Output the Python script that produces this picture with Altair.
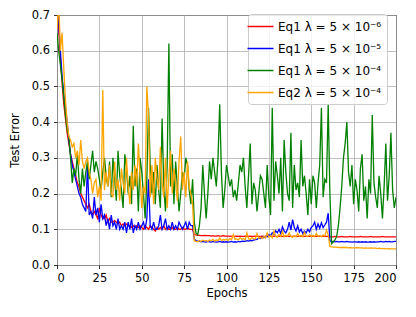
import altair as alt
import pandas as pd

epochs = list(range(201))

red_vals = [
    0.74, 0.66, 0.58, 0.51, 0.45, 0.41, 0.37, 0.34, 0.31, 0.29,
    0.27, 0.25, 0.23, 0.22, 0.20, 0.19, 0.18, 0.17, 0.16, 0.17,
    0.15, 0.14, 0.15, 0.14, 0.13, 0.16, 0.14, 0.13, 0.13, 0.14,
    0.12, 0.13, 0.12, 0.12, 0.125, 0.12, 0.115, 0.12, 0.11, 0.115,
    0.11, 0.115, 0.11, 0.11, 0.105, 0.11, 0.105, 0.11, 0.105, 0.11,
    0.105, 0.10, 0.11, 0.105, 0.10, 0.11, 0.105, 0.10, 0.095, 0.105,
    0.10, 0.105, 0.10, 0.11, 0.10, 0.105, 0.10, 0.10, 0.105, 0.10,
    0.10, 0.105, 0.10, 0.10, 0.105, 0.10, 0.10, 0.105, 0.10, 0.10,
    0.100, 0.086, 0.084, 0.083, 0.083, 0.082, 0.082, 0.083, 0.082, 0.082,
    0.082, 0.081, 0.082, 0.081, 0.081, 0.082, 0.081, 0.081, 0.082, 0.081,
    0.081, 0.081, 0.080, 0.081, 0.081, 0.080, 0.081, 0.080, 0.081, 0.080,
    0.080, 0.081, 0.080, 0.080, 0.081, 0.080, 0.080, 0.081, 0.080, 0.080,
    0.080, 0.081, 0.080, 0.080, 0.080, 0.081, 0.080, 0.080, 0.081, 0.080,
    0.080, 0.080, 0.081, 0.080, 0.080, 0.080, 0.081, 0.080, 0.080, 0.080,
    0.081, 0.080, 0.080, 0.080, 0.080, 0.081, 0.080, 0.080, 0.080, 0.081,
    0.080, 0.080, 0.080, 0.081, 0.080, 0.080, 0.080, 0.080, 0.081, 0.080,
    0.080, 0.079, 0.079, 0.079, 0.080, 0.079, 0.079, 0.079, 0.080, 0.079,
    0.079, 0.079, 0.079, 0.080, 0.079, 0.079, 0.079, 0.079, 0.079, 0.080,
    0.079, 0.079, 0.079, 0.079, 0.079, 0.080, 0.079, 0.079, 0.079, 0.079,
    0.079, 0.079, 0.080, 0.079, 0.079, 0.079, 0.079, 0.079, 0.079, 0.079,
    0.079,
]

blue_vals = [
    0.76, 0.68, 0.60, 0.53, 0.48, 0.44, 0.40, 0.35, 0.31, 0.28,
    0.26, 0.24, 0.22, 0.20, 0.19, 0.17, 0.16, 0.15, 0.28, 0.14,
    0.15, 0.13, 0.19, 0.14, 0.16, 0.12, 0.17, 0.13, 0.14, 0.11,
    0.13, 0.10, 0.14, 0.11, 0.12, 0.10, 0.13, 0.10, 0.11, 0.10,
    0.12, 0.09, 0.12, 0.10, 0.13, 0.09, 0.11, 0.10, 0.12, 0.10,
    0.11, 0.12, 0.10, 0.13, 0.24, 0.11, 0.10, 0.12, 0.10, 0.10,
    0.11, 0.14, 0.10, 0.11, 0.13, 0.10, 0.11, 0.10, 0.12, 0.10,
    0.11, 0.10, 0.12, 0.11, 0.10, 0.11, 0.12, 0.10, 0.12, 0.11,
    0.11, 0.072, 0.068, 0.066, 0.067, 0.065, 0.066, 0.065, 0.064, 0.066,
    0.065, 0.064, 0.066, 0.065, 0.064, 0.065, 0.066, 0.064, 0.065, 0.064,
    0.065, 0.064, 0.065, 0.066, 0.064, 0.065, 0.064, 0.066, 0.065, 0.066,
    0.067, 0.066, 0.068, 0.067, 0.069, 0.068, 0.070, 0.071, 0.072, 0.075,
    0.074, 0.078, 0.076, 0.080, 0.079, 0.085, 0.082, 0.090, 0.085, 0.096,
    0.090, 0.100, 0.088, 0.107, 0.095, 0.090, 0.100, 0.120, 0.098, 0.127,
    0.105, 0.095, 0.110, 0.092, 0.100, 0.088, 0.095, 0.090, 0.100, 0.093,
    0.105, 0.110, 0.120, 0.100, 0.115, 0.103, 0.118, 0.105, 0.112, 0.120,
    0.145, 0.068, 0.065, 0.066, 0.065, 0.066, 0.065, 0.065, 0.066, 0.065,
    0.065, 0.066, 0.065, 0.065, 0.064, 0.065, 0.065, 0.064, 0.065, 0.064,
    0.065, 0.064, 0.065, 0.064, 0.064, 0.065, 0.064, 0.065, 0.064, 0.065,
    0.065, 0.066, 0.065, 0.065, 0.066, 0.065, 0.066, 0.065, 0.065, 0.066,
    0.066,
]

green_vals = [
    0.65, 0.60, 0.56, 0.52, 0.47, 0.42, 0.38, 0.36, 0.30, 0.23,
    0.27, 0.25, 0.31, 0.24, 0.20, 0.27, 0.22, 0.26, 0.29, 0.24,
    0.28, 0.32, 0.26, 0.29, 0.27, 0.24, 0.21, 0.26, 0.30, 0.25,
    0.22, 0.29, 0.19, 0.30, 0.24, 0.18, 0.32, 0.25, 0.21, 0.16,
    0.31, 0.27, 0.20, 0.25, 0.17, 0.39, 0.22, 0.27, 0.15, 0.30,
    0.26, 0.20, 0.13, 0.24, 0.44, 0.28, 0.20, 0.26, 0.17, 0.28,
    0.21, 0.16, 0.41, 0.22, 0.15, 0.28, 0.62, 0.22, 0.31, 0.17,
    0.29, 0.22, 0.15, 0.20, 0.26, 0.24, 0.30, 0.28, 0.21, 0.17,
    0.24, 0.12, 0.09, 0.085, 0.11, 0.16, 0.28, 0.20, 0.13, 0.20,
    0.29, 0.24, 0.30, 0.26, 0.22, 0.30, 0.45, 0.26, 0.16, 0.21,
    0.28, 0.25, 0.22, 0.24, 0.19, 0.21, 0.18, 0.23, 0.28, 0.26,
    0.30, 0.22, 0.16, 0.25, 0.34, 0.17, 0.23, 0.21, 0.15, 0.20,
    0.25, 0.24, 0.20, 0.16, 0.28, 0.19, 0.14, 0.44, 0.18, 0.29,
    0.25, 0.20, 0.30, 0.15, 0.35, 0.26, 0.20, 0.18, 0.37, 0.16,
    0.28, 0.21, 0.23, 0.19, 0.35, 0.22, 0.25, 0.20, 0.14, 0.24,
    0.17, 0.25, 0.23, 0.16, 0.23, 0.28, 0.44, 0.19, 0.24, 0.23,
    0.45, 0.20, 0.06, 0.065, 0.07, 0.08, 0.11, 0.16, 0.22, 0.30,
    0.34, 0.40, 0.26, 0.22, 0.28, 0.17, 0.24, 0.21, 0.15, 0.27,
    0.31, 0.18, 0.22, 0.13, 0.24, 0.20, 0.42, 0.23, 0.19, 0.16,
    0.25, 0.20, 0.13, 0.22, 0.34, 0.18, 0.25, 0.37, 0.21, 0.16,
    0.19,
]

orange_vals = [
    0.66, 0.74, 0.60, 0.65, 0.55, 0.46, 0.40, 0.36, 0.35, 0.33,
    0.34, 0.30, 0.32, 0.28, 0.35, 0.29, 0.27, 0.29, 0.30, 0.26,
    0.24, 0.20, 0.23, 0.24, 0.19, 0.22, 0.18, 0.49, 0.21, 0.26,
    0.22, 0.28, 0.20, 0.19, 0.29, 0.21, 0.24, 0.18, 0.27, 0.23,
    0.20, 0.30, 0.22, 0.17, 0.26, 0.21, 0.28, 0.22, 0.34, 0.25,
    0.16, 0.22, 0.20, 0.50, 0.42, 0.19, 0.28, 0.17, 0.30, 0.24,
    0.21, 0.33, 0.23, 0.19, 0.30, 0.16, 0.25, 0.32, 0.20, 0.27,
    0.23, 0.18, 0.29, 0.36, 0.21, 0.26, 0.19, 0.29, 0.22, 0.20,
    0.17, 0.068, 0.066, 0.065, 0.068, 0.066, 0.070, 0.067, 0.069, 0.066,
    0.070, 0.068, 0.072, 0.067, 0.070, 0.068, 0.075, 0.069, 0.071, 0.070,
    0.072, 0.069, 0.074, 0.071, 0.085, 0.072, 0.073, 0.070, 0.076, 0.072,
    0.074, 0.071, 0.090, 0.073, 0.072, 0.076, 0.074, 0.073, 0.088, 0.075,
    0.078, 0.074, 0.080, 0.076, 0.090, 0.078, 0.082, 0.076, 0.095, 0.080,
    0.078, 0.085, 0.080, 0.094, 0.079, 0.083, 0.081, 0.090, 0.080, 0.078,
    0.082, 0.079, 0.088, 0.080, 0.083, 0.079, 0.092, 0.081, 0.080, 0.085,
    0.080, 0.083, 0.079, 0.088, 0.080, 0.082, 0.079, 0.084, 0.081, 0.098,
    0.085, 0.052, 0.051, 0.050, 0.050, 0.050, 0.049, 0.049, 0.049, 0.049,
    0.049, 0.049, 0.048, 0.049, 0.048, 0.048, 0.048, 0.049, 0.048, 0.048,
    0.048, 0.047, 0.048, 0.047, 0.047, 0.048, 0.047, 0.047, 0.047, 0.046,
    0.047, 0.046, 0.046, 0.046, 0.046, 0.045, 0.046, 0.045, 0.045, 0.045,
    0.045,
]

series_names = [
    "Eq1 λ = 5 × 10⁻⁶",
    "Eq1 λ = 5 × 10⁻⁵",
    "Eq1 λ = 5 × 10⁻⁴",
    "Eq2 λ = 5 × 10⁻⁴",
]
series_colors = ["#ff0000", "#0000ff", "#008000", "#ffa500"]
x_ticks = [0, 25, 50, 75, 100, 125, 150, 175, 200]
y_ticks = [0.0, 0.1, 0.2, 0.3, 0.4, 0.5, 0.6, 0.7]

rows = []
for idx, (name, vals) in enumerate(zip(series_names, [red_vals, blue_vals, green_vals, orange_vals])):
    for e, v in zip(epochs, vals):
        rows.append({"epoch": e, "error": v, "series": name, "k": idx})
df = pd.DataFrame(rows)

FONT = "DejaVu Sans"

chart = alt.Chart(df).mark_line(strokeWidth=1.3, clip=True).encode(
    x=alt.X("epoch:Q", scale=alt.Scale(domain=[0, 200], nice=False),
            axis=alt.Axis(values=x_ticks, format="d", title="Epochs",
                          labelPadding=4, titlePadding=3)),
    y=alt.Y("error:Q", scale=alt.Scale(domain=[0, 0.7], nice=False),
            axis=alt.Axis(values=y_ticks, format=".1f", title="Test Error",
                          labelPadding=4, titlePadding=11)),
    color=alt.Color("series:N",
                    scale=alt.Scale(domain=series_names, range=series_colors),
                    legend=alt.Legend(title=None, orient="none", legendX=191, legendY=-1,
                                      symbolType="M-2,0L2,0", symbolSize=169,
                                      symbolStrokeWidth=1.5, labelOffset=10,
                                      labelFont=FONT, labelFontSize=12, labelColor="black",
                                      fillColor="rgba(255,255,255,0.8)", strokeColor="#cccccc",
                                      cornerRadius=3, padding=5, rowPadding=8)),
    detail="k:O",
).properties(
    width=339, height=250,
    padding={"left": 49, "top": 7, "right": 12, "bottom": 35},
    autosize=alt.AutoSizeParams(type="none"),
).configure_view(
    stroke="black", strokeWidth=1
).configure_axis(
    grid=True, gridColor="#b0b0b0", gridWidth=0.8, domain=False,
    tickColor="black", tickSize=3.5, tickWidth=0.8,
    labelFont=FONT, labelFontSize=11.5, labelColor="black",
    titleFont=FONT, titleFontSize=11.5, titleFontWeight="normal", titleColor="black",
)

chart.save("out.html", embed_options={"renderer": "svg", "actions": False})
